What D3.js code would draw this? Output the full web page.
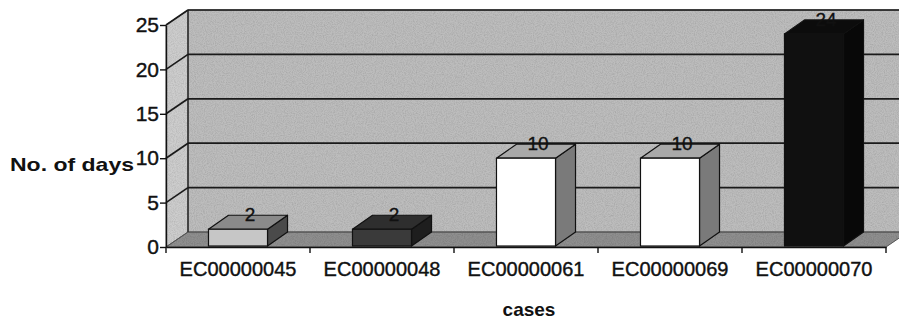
<!DOCTYPE html>
<html>
<head>
<meta charset="utf-8">
<script src="https://cdn.jsdelivr.net/npm/d3@7"></script>
<style>
  html, body { margin: 0; padding: 0; background: #fff; }
  svg { display: block; }
  text { font-family: "Liberation Sans", Arial, Helvetica, sans-serif; fill: #111; }
</style>
</head>
<body>
<svg id="chart" width="899" height="320"></svg>
<script>
// Days per case
const categories = ["EC00000045", "EC00000048", "EC00000061", "EC00000069", "EC00000070"];
const days = [2, 2, 10, 10, 24];
const yTicks = [0, 5, 10, 15, 20, 25];

// Face shading for each column: front, top, side
const barStyles = [
  { front: "#c6c6c6", top: "#8a8a8a", side: "#4a4a4a" },
  { front: "#3a3a3a", top: "#2e2e2e", side: "#1e1e1e" },
  { front: "#ffffff", top: "#a9a9a9", side: "#7a7a7a" },
  { front: "#ffffff", top: "#a9a9a9", side: "#7a7a7a" },
  { front: "#101010", top: "#0c0c0c", side: "#080808" }
];

const svg = d3.select("#chart");

// Light grain for the wall and floor surfaces
const defs = svg.append("defs");
const grain = defs.append("filter").attr("id", "grain").attr("x", 0).attr("y", 0).attr("width", 1).attr("height", 1);
grain.append("feTurbulence").attr("type", "fractalNoise").attr("baseFrequency", 0.9).attr("numOctaves", 2).attr("seed", 4).attr("result", "noise");
grain.append("feColorMatrix").attr("in", "noise").attr("type", "matrix")
  .attr("values", "0 0 0 0 0  0 0 0 0 0  0 0 0 0 0  0 0 0 0.45 -0.16").attr("result", "dots");
grain.append("feComposite").attr("in", "dots").attr("in2", "SourceGraphic").attr("operator", "in").attr("result", "clipped");
const merge = grain.append("feMerge");
merge.append("feMergeNode").attr("in", "SourceGraphic");
merge.append("feMergeNode").attr("in", "clipped");

const plotLeft = 166, plotRight = 886, plotBottom = 247, plotTop = 25;
const wallDx = 22, wallDy = -15;   // depth of the back wall
const barDx = 20, barDy = -14;     // depth of each column

const x = d3.scaleBand().domain(categories).range([plotLeft, plotRight]).paddingInner(0).paddingOuter(0);
const y = d3.scaleLinear().domain([0, 25]).range([plotBottom, plotTop]);

const y0 = y(0), yMax = y(25);

const sideWall = [[plotLeft, y0], [plotLeft, yMax], [plotLeft + wallDx, yMax + wallDy], [plotLeft + wallDx, y0 + wallDy]];
const floor = [[plotLeft, y0], [plotRight, y0], [plotRight + wallDx, y0 + wallDy], [plotLeft + wallDx, y0 + wallDy]];

const surfaces = svg.append("g").attr("filter", "url(#grain)");
surfaces.append("polygon").attr("points", sideWall.join(" ")).attr("fill", "#cdcdcd");
surfaces.append("rect")
  .attr("x", plotLeft + wallDx).attr("y", yMax + wallDy)
  .attr("width", plotRight - plotLeft).attr("height", y0 - yMax)
  .attr("fill", "#bdbdbd");
surfaces.append("polygon").attr("points", floor.join(" ")).attr("fill", "#8f8f8f");

// Outlines of the walls and floor
const outline = svg.append("g").attr("fill", "none").attr("stroke", "#555").attr("stroke-width", 1);
outline.append("polygon").attr("points", sideWall.join(" "));
outline.append("rect")
  .attr("x", plotLeft + wallDx).attr("y", yMax + wallDy)
  .attr("width", plotRight - plotLeft).attr("height", y0 - yMax);
outline.append("polygon").attr("points", floor.join(" "));

// Gridlines across the back wall and diagonals on the side wall
const grid = svg.append("g").attr("stroke", "#1a1a1a").attr("stroke-width", 1.7).attr("fill", "none");
yTicks.filter(t => t > 0).forEach(t => {
  grid.append("line")
    .attr("x1", plotLeft + wallDx).attr("x2", plotRight + wallDx)
    .attr("y1", y(t) + wallDy).attr("y2", y(t) + wallDy);
  grid.append("line")
    .attr("x1", plotLeft).attr("x2", plotLeft + wallDx)
    .attr("y1", y(t)).attr("y2", y(t) + wallDy);
});
grid.append("line")
  .attr("x1", plotLeft + wallDx).attr("x2", plotLeft + wallDx)
  .attr("y1", yMax + wallDy).attr("y2", y0 + wallDy).attr("stroke-width", 1);

// Columns
const barW = x.bandwidth() * 0.41;
const bars = svg.append("g").selectAll("g").data(categories).join("g");
bars.each(function (c, i) {
  const g = d3.select(this);
  const st = barStyles[i];
  const cx = x(c) + x.bandwidth() / 2;
  const l = cx - barW / 2, r = cx + barW / 2;
  const b = y(0) - 1, t = y(days[i]);
  g.append("polygon") // side
    .attr("points", [[r, b], [r, t], [r + barDx, t + barDy], [r + barDx, b + barDy]].join(" "))
    .attr("fill", st.side).attr("stroke", "#111").attr("stroke-width", 1.2).attr("stroke-linejoin", "round");
  g.append("polygon") // top
    .attr("points", [[l, t], [r, t], [r + barDx, t + barDy], [l + barDx, t + barDy]].join(" "))
    .attr("fill", st.top).attr("stroke", "#111").attr("stroke-width", 1.2).attr("stroke-linejoin", "round");
  g.append("rect") // front
    .attr("x", l).attr("y", t).attr("width", barW).attr("height", b - t)
    .attr("fill", st.front).attr("stroke", "#111").attr("stroke-width", 1.2);
  g.append("text") // value label
    .attr("x", cx + barDx / 2 + 2).attr("y", t + barDy + 6)
    .attr("text-anchor", "middle")
    .attr("font-size", 19)
    .attr("stroke", "#111").attr("stroke-width", 0.35)
    .text(days[i]);
});

// Value axis
const yAxis = svg.append("g")
  .attr("transform", `translate(${plotLeft},0)`)
  .call(d3.axisLeft(y).tickValues(yTicks).tickSize(6).tickSizeOuter(0).tickPadding(1));
yAxis.select(".domain").attr("stroke", "#111").attr("stroke-width", 1.4);
yAxis.selectAll(".tick line").attr("stroke", "#111").attr("stroke-width", 1.4);
yAxis.selectAll(".tick text")
  .attr("font-size", 21).attr("fill", "#111")
  .attr("stroke", "#111").attr("stroke-width", 0.4)
  .style("font-family", "'Liberation Sans', Arial, sans-serif");

// Category axis: labels at band centres, tick marks at band edges
const xAxis = svg.append("g")
  .attr("transform", `translate(0,${plotBottom})`)
  .call(d3.axisBottom(x).tickSize(0).tickSizeOuter(0).tickPadding(15));
xAxis.select(".domain").attr("stroke", "#111").attr("stroke-width", 1.4);
xAxis.selectAll(".tick text")
  .attr("font-size", 20).attr("fill", "#111")
  .attr("stroke", "#111").attr("stroke-width", 0.4)
  .style("font-family", "'Liberation Sans', Arial, sans-serif");
const edges = categories.map(c => x(c)).concat([plotRight]);
xAxis.selectAll("line.edge").data(edges).join("line")
  .attr("class", "edge")
  .attr("x1", d => d).attr("x2", d => d)
  .attr("y1", 0).attr("y2", 6)
  .attr("stroke", "#111").attr("stroke-width", 1.4);

// Axis titles
svg.append("text")
  .attr("x", 10).attr("y", 171)
  .attr("font-size", 19).attr("font-weight", "bold")
  .attr("textLength", 124).attr("lengthAdjust", "spacingAndGlyphs")
  .text("No. of days");
svg.append("text")
  .attr("x", 529).attr("y", 316)
  .attr("text-anchor", "middle")
  .attr("font-size", 19).attr("font-weight", "bold")
  .text("cases");
</script>
</body>
</html>
